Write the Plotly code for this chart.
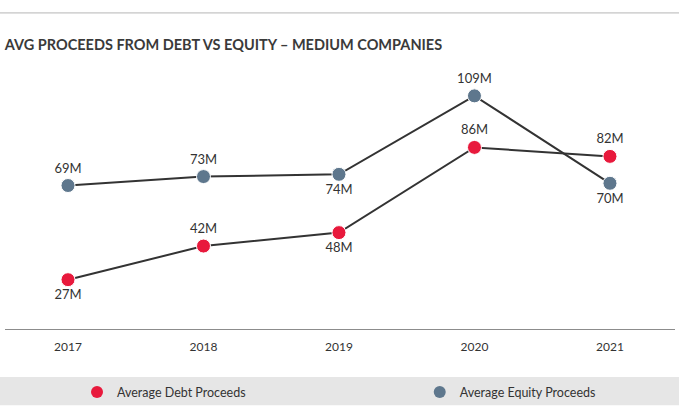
import plotly.graph_objects as go

# chart data
years = ["2017", "2018", "2019", "2020", "2021"]
debt_proceeds = [27, 42, 48, 86, 82]
equity_proceeds = [69, 73, 74, 109, 70]

debt_labels = [f"{v}M" for v in debt_proceeds]
equity_labels = [f"{v}M" for v in equity_proceeds]

RED = "#E8193C"
SLATE = "#5E778D"
LINE = "#333333"
FONT = "Lato"

# where the value labels sit (above / below the dot)
debt_textpos = ["bottom center", "top center", "bottom center", "top center", "top center"]
equity_textpos = ["top center", "top center", "bottom center", "top center", "bottom center"]

fig = go.Figure()

fig.add_trace(go.Scatter(
    x=years, y=equity_proceeds, mode="lines+markers+text",
    text=equity_labels, textposition=equity_textpos,
    textfont=dict(family=FONT, size=13, color="#333333"),
    line=dict(color=LINE, width=2),
    marker=dict(color=SLATE, size=14, line=dict(color="white", width=1)),
    showlegend=False, cliponaxis=False, hoverinfo="skip",
))
fig.add_trace(go.Scatter(
    x=years, y=debt_proceeds, mode="lines+markers+text",
    text=debt_labels, textposition=debt_textpos,
    textfont=dict(family=FONT, size=13, color="#333333"),
    line=dict(color=LINE, width=2),
    marker=dict(color=RED, size=14, line=dict(color="white", width=1)),
    showlegend=False, cliponaxis=False, hoverinfo="skip",
))

# legend entries (dot only, no line), each in its own legend box
fig.add_trace(go.Scatter(x=[None], y=[None], mode="markers", name="Average Debt Proceeds",
                         marker=dict(color=RED, size=12), legend="legend"))
fig.add_trace(go.Scatter(x=[None], y=[None], mode="markers", name="Average Equity Proceeds",
                         marker=dict(color=SLATE, size=12), legend="legend2"))

# grey legend band and thin rule at the top
fig.add_shape(type="rect", xref="paper", yref="paper", x0=-0.01, x1=1.01, y0=-0.283, y1=-0.178,
              fillcolor="#E6E6E6", line=dict(width=0), layer="below")
fig.add_shape(type="line", xref="paper", yref="paper", x0=-0.01, x1=1.01, y0=1.175, y1=1.175,
              line=dict(color="#B5B5B5", width=1))

legend_style = dict(orientation="h", xanchor="left", y=-0.236, yanchor="middle",
                    bgcolor="rgba(0,0,0,0)",
                    font=dict(family=FONT, size=12.5, color="#333333"))

fig.update_layout(
    width=679, height=418,
    margin=dict(l=5, r=4, t=60, b=89, autoexpand=False),
    paper_bgcolor="white", plot_bgcolor="white",
    font=dict(family=FONT, size=12, color="#333333"),
    title=dict(text="AVG PROCEEDS FROM DEBT VS EQUITY – MEDIUM COMPANIES",
               x=0.007, xanchor="left", y=0.892, yanchor="middle",
               font=dict(family=FONT, size=14.5, color="#3A3A3A", weight="bold")),
    xaxis=dict(type="category", range=[-0.465, 4.48], showgrid=False, zeroline=False,
               showline=True, linecolor="#8C8C8C", linewidth=1,
               ticks="", ticklabelstandoff=7,
               tickfont=dict(family=FONT, size=12, color="#333333"), fixedrange=True),
    yaxis=dict(range=[5, 125], visible=False, fixedrange=True),
    legend=dict(x=0.1075, **legend_style),
    legend2=dict(x=0.619, **legend_style),
)

# drop the browser's default 8px body margin so the figure fills the window
fig.write_html("out.html", config={"displayModeBar": False},
               post_script="document.body.style.margin='0';")
